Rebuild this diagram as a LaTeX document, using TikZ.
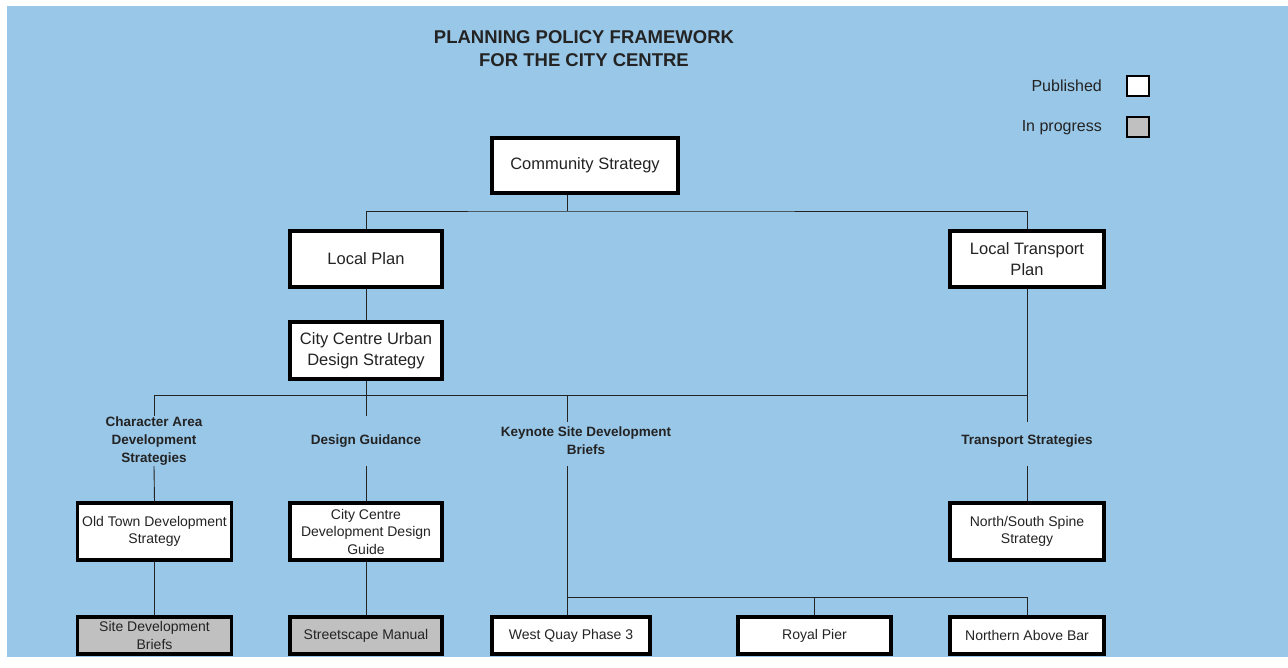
\documentclass[tikz,border=0pt]{standalone}
\usepackage{fontspec}
\setmainfont{Liberation Sans}
\definecolor{planblue}{RGB}{153,199,232}
\definecolor{progrey}{RGB}{192,192,192}
\definecolor{inkgrey}{RGB}{35,35,35}

\begin{document}
\begin{tikzpicture}[x=1pt,y=-1pt,
  bigbox/.style={draw=black, line width=3.2pt, fill=white, align=center, inner sep=1pt, text=inkgrey, font=\fontsize{16.5}{20.5}\selectfont},
  smallbox/.style={draw=black, line width=3.2pt, fill=white, align=center, inner sep=1pt, text=inkgrey, font=\fontsize{14}{17.5}\selectfont, minimum width=154pt, minimum height=57pt},
  lowbox/.style={smallbox, minimum height=37pt},
  progress/.style={fill=progrey},
  headlabel/.style={align=center, inner sep=0pt, minimum height=50pt, text=inkgrey, font=\bfseries\fontsize{13.5}{18}\selectfont},
  keybox/.style={draw=black, line width=2.8pt, fill=white, minimum width=22pt, minimum height=20pt, inner sep=0pt},
  link/.style={draw=inkgrey, line width=0.9pt}]
\useasboundingbox (0,0) rectangle (1288,667);
\fill[planblue] (7,6) rectangle (1288,657);

\node[align=center, text=inkgrey, font=\bfseries\fontsize{18.5}{23}\selectfont] (title) at (584,49) {PLANNING POLICY FRAMEWORK\\FOR THE CITY CENTRE};

\node[anchor=east, text=inkgrey, font=\fontsize{16}{19}\selectfont, inner sep=0pt] (pubtxt) at (1102,86) {Published};
\node[keybox] (pubbox) at (1138,86) {};
\node[anchor=east, text=inkgrey, font=\fontsize{16}{19}\selectfont, inner sep=0pt] (progtxt) at (1102,128) {In progress};
\node[keybox, progress] (progbox) at (1138,127) {};

\node[bigbox, minimum width=186pt, minimum height=55pt] (cs) at (585,165.5) {Community Strategy};
\node[bigbox, minimum width=152pt, minimum height=56pt] (lp) at (366,259) {Local Plan};
\node[bigbox, minimum width=154pt, minimum height=56pt] (ltp) at (1027,259) {Local Transport\\Plan};
\node[bigbox, minimum width=152pt, minimum height=57pt] (uds) at (366,350.5) {City Centre Urban\\Design Strategy};

\node[headlabel] (charlab) at (154,441) {Character Area\\Development\\Strategies};
\node[headlabel] (designlab) at (366,441) {Design Guidance};
\node[headlabel] (keylab) at (586,441) {Keynote Site Development\\Briefs};
\node[headlabel] (translab) at (1027,441) {Transport Strategies};

\node[smallbox] (oldtown) at (154.5,531.5) {Old Town Development\\Strategy};
\node[smallbox, minimum width=152pt] (ccddg) at (366,531.5) {City Centre\\Development Design\\Guide};
\node[smallbox] (nsspine) at (1027,531.5) {North/South Spine\\Strategy};

\node[lowbox, progress] (sdb) at (154.5,635.5) {Site Development\\Briefs};
\node[lowbox, progress, minimum width=152pt] (street) at (366,635.5) {Streetscape Manual};
\node[lowbox, minimum width=158pt] (wqp) at (571,635.5) {West Quay Phase 3};
\node[lowbox, minimum width=153pt] (royal) at (814.5,635.5) {Royal Pier};
\node[lowbox] (nab) at (1027,635.5) {Northern Above Bar};

\coordinate (bus1) at (567,211);
\coordinate (bus2) at (567,395);
\coordinate (bus3) at (567,597);

\draw[link] (cs.south -| bus1) -- (bus1);
\draw[link] (lp.north) |- (bus1) -| (ltp.north);
\draw[link] (lp.south) -- (uds.north);
\draw[link] (uds.south) -- (designlab.north);
\draw[link] (ltp.south) -- ([yshift=-6pt]translab.north);
\draw[link] (charlab.north) |- (bus2 -| translab.north);
\draw[link] (bus2) -- ([yshift=-6pt]keylab.north -| bus2);
\draw[link] (charlab.south) -- (oldtown.north);
\draw[link] (designlab.south) -- (ccddg.north);
\draw[link] (translab.south) -- (nsspine.north);
\draw[link] (oldtown.south) -- (sdb.north);
\draw[link] (ccddg.south) -- (street.north);
\draw[link] (keylab.south -| bus3) -- (wqp.north -| bus3);
\draw[link] (bus3) -| (nab.north);
\draw[link] (royal.north) -- (royal.north |- bus3);
\end{tikzpicture}
\end{document}
